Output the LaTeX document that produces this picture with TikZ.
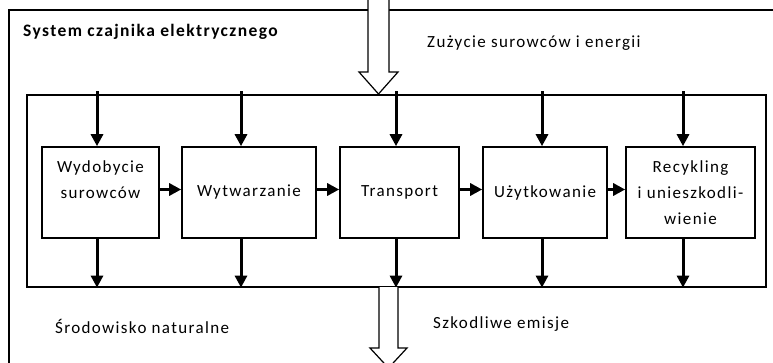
\documentclass[tikz,border=0pt]{standalone}
\usepackage{fontspec}
\setmainfont{Carlito}[LetterSpace=8]
\usetikzlibrary{arrows.meta}
\tikzset{
  ramka/.style={line width=1.2pt},
  blok/.style={draw, line width=1.6pt, minimum height=91pt, inner sep=0pt, align=center,
    font=\fontsize{17}{26}\selectfont},
  przeplyw/.style={-{Triangle[length=12pt,width=12pt]}, line width=3pt},
  napis/.style={anchor=base west, inner sep=0pt, font=\fontsize{17}{20}\selectfont},
  gruba/.style={draw, fill=white, line width=1.2pt, line join=miter}
}
\begin{document}
\begin{tikzpicture}[x=1pt,y=-1pt]
    \useasboundingbox (0,0) rectangle (773,363);
    \clip (0,0) rectangle (773,363);

    % Ramka zewnetrzna (system)
    \draw[ramka] (9,420) -- (9,10) -- (820,10);
    \node[napis, font=\fontsize{17.5}{20}\selectfont\bfseries] (tytul) at (23,37) {System czajnika elektrycznego};

    % Ramka wewnetrzna
    \node[draw, ramka, minimum width=739pt, minimum height=192pt, inner sep=0pt] (sys) at (396.5,191) {};

    % Etapy cyklu zycia
    \node[blok, minimum width=117pt] (b1) at (100.5,192.5) {Wydobycie\\surowców\\~};
    \node[blok, minimum width=134pt] (b2) at (249,192.5) {Wytwarzanie};
    \node[blok, minimum width=119pt] (b3) at (399.5,192.5) {Transport};
    \node[blok, minimum width=124pt] (b4) at (545,192.5) {Użytkowanie};
    \node[blok, minimum width=129pt] (b5) at (690.5,192.5) {Recykling\\i unieszkodli-\\wienie};

    % Strzalki miedzy etapami
    \foreach \a/\b in {b1/b2, b2/b3, b3/b4, b4/b5}
        \draw[przeplyw] ([yshift=3pt]\a.east) -- ([yshift=3pt]\b.west);

    % Wejscie - zuzycie surowcow i energii
    \draw[gruba] (368,-5) -- (368,72) -- (359,72) -- (378.5,94) -- (398,72) -- (389,72) -- (389,-5);
    \node[napis] (wejscie) at (427,48) {Zużycie surowców i energii};

    % Wyjscie - szkodliwe emisje
    \draw[gruba] (379,287) -- (379,348) -- (370,348) -- (388.5,368) -- (407,348) -- (398,348) -- (398,287);
    \node[napis] (srodowisko) at (55,333) {Środowisko naturalne};
    \node[napis] (emisje) at (433,328) {Szkodliwe emisje};

    % Strzalki pionowe (wejscia i emisje kazdego etapu)
    \foreach \b/\dx in {b1/-3.5, b2/-8, b3/-3.5, b4/-3, b5/-7.5} {
        \draw[przeplyw, shorten <=-3pt] ([xshift=\dx pt]\b.north |- sys.north) -- ([xshift=\dx pt]\b.north);
        \draw[przeplyw] ([xshift=\dx pt]\b.south) -- ([xshift=\dx pt]\b.south |- sys.south);
    }
\end{tikzpicture}
\end{document}
